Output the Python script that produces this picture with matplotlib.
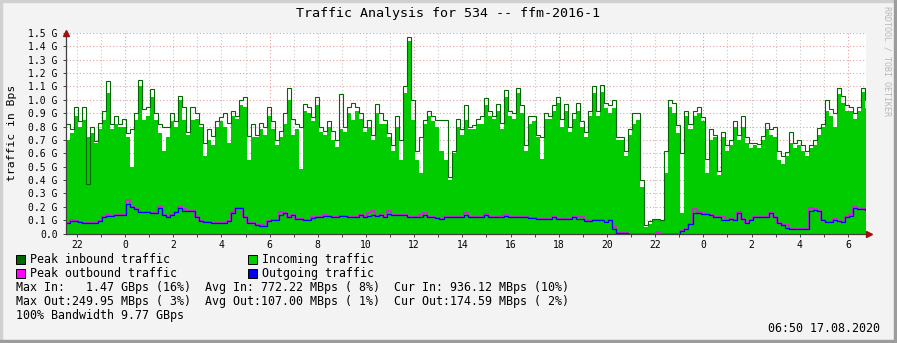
import numpy as np
import matplotlib
matplotlib.use("Agg")
import matplotlib.pyplot as plt
from matplotlib.patches import Rectangle

# hours relative to 16.08.2020 00:00, one sample every 10 minutes
t_start = -2.45
step_h = 1 / 6
x_range = (-2.45, 30.75)

avg_in = [
    0.70, 0.75, 0.88, 0.80, 0.85, 0.72, 0.75, 0.68, 0.78, 0.85,
    1.05, 0.78, 0.82, 0.80, 0.80, 0.72, 0.50, 0.85, 1.10, 0.85,
    0.88, 1.02, 0.85, 0.75, 0.62, 0.72, 0.84, 0.80, 1.00, 0.85,
    0.74, 0.85, 0.86, 0.80, 0.58, 0.70, 0.66, 0.80, 0.84, 0.80,
    0.68, 0.88, 0.86, 0.96, 0.95, 0.55, 0.72, 0.72, 0.78, 0.74,
    0.88, 0.78, 0.66, 0.72, 0.82, 1.00, 0.74, 0.78, 0.48, 0.92,
    0.90, 0.84, 0.96, 0.76, 0.74, 0.80, 0.70, 0.65, 0.78, 0.76,
    0.90, 0.85, 0.92, 0.86, 0.76, 0.80, 0.70, 0.90, 0.82, 0.82,
    0.72, 0.62, 0.80, 0.55, 1.05, 1.44, 0.85, 0.55, 0.45, 0.82,
    0.88, 0.84, 0.80, 0.62, 0.55, 0.40, 0.60, 0.80, 0.74, 0.85,
    0.78, 0.78, 0.82, 0.82, 0.96, 0.88, 0.86, 0.92, 0.78, 1.02,
    0.88, 0.86, 1.05, 0.90, 0.62, 0.82, 0.84, 0.72, 0.56, 0.86,
    0.86, 0.92, 0.98, 0.80, 0.92, 0.76, 0.86, 0.92, 0.80, 0.72,
    0.88, 1.05, 0.88, 1.06, 0.94, 0.90, 0.94, 0.70, 0.70, 0.58,
    0.74, 0.82, 0.85, 0.35, 0.05, 0.07, 0.10, 0.10, 0.09, 0.45,
    0.95, 0.90, 0.75, 0.15, 0.88, 0.78, 0.88, 0.90, 0.84, 0.45,
    0.70, 0.72, 0.44, 0.72, 0.62, 0.66, 0.80, 0.70, 0.80, 0.68,
    0.64, 0.66, 0.64, 0.70, 0.78, 0.74, 0.72, 0.55, 0.52, 0.58,
    0.68, 0.64, 0.66, 0.62, 0.58, 0.64, 0.66, 0.74, 0.80, 0.92,
    0.88, 0.80, 1.04, 0.98, 0.92, 0.92, 0.86, 0.92, 1.06, 0.94,
]

peak_in = [
    0.82, 0.78, 0.95, 0.84, 0.95, 0.37, 0.80, 0.69, 0.83, 0.92,
    1.14, 0.82, 0.88, 0.82, 0.86, 0.75, 0.78, 0.90, 1.15, 0.93,
    0.95, 1.08, 0.90, 0.82, 0.80, 0.80, 0.90, 0.84, 1.03, 0.95,
    0.76, 0.95, 0.90, 0.82, 0.68, 0.78, 0.73, 0.84, 0.87, 0.90,
    0.83, 0.92, 0.88, 1.00, 1.02, 0.73, 0.82, 0.74, 0.83, 0.80,
    0.95, 0.84, 0.70, 0.77, 0.90, 1.09, 0.86, 0.82, 0.80, 0.97,
    0.95, 0.87, 1.02, 0.80, 0.77, 0.84, 0.77, 0.70, 1.04, 0.80,
    0.95, 0.98, 0.95, 0.90, 0.80, 0.85, 0.74, 0.97, 0.90, 0.85,
    0.75, 0.66, 0.88, 0.70, 1.10, 1.47, 1.00, 0.62, 0.72, 0.85,
    0.92, 0.88, 0.85, 0.85, 0.85, 0.42, 0.62, 0.86, 0.78, 0.96,
    0.80, 0.81, 0.86, 0.88, 1.01, 0.92, 0.88, 0.97, 0.83, 1.07,
    0.92, 0.90, 1.09, 0.96, 0.66, 0.88, 0.88, 0.74, 0.72, 0.90,
    0.88, 0.96, 1.02, 0.86, 0.97, 0.80, 0.90, 0.98, 0.84, 0.76,
    0.92, 1.10, 0.92, 1.11, 0.98, 0.96, 1.00, 0.72, 0.72, 0.62,
    0.78, 0.90, 0.90, 0.40, 0.06, 0.09, 0.11, 0.11, 0.10, 0.62,
    1.00, 0.98, 0.81, 0.60, 0.92, 0.82, 0.92, 0.95, 0.87, 0.56,
    0.78, 0.74, 0.47, 0.76, 0.66, 0.70, 0.84, 0.74, 0.88, 0.72,
    0.68, 0.68, 0.67, 0.73, 0.83, 0.78, 0.80, 0.62, 0.58, 0.61,
    0.76, 0.68, 0.70, 0.66, 0.62, 0.66, 0.70, 0.79, 0.82, 1.00,
    0.93, 0.90, 1.09, 1.03, 0.96, 0.95, 0.90, 0.95, 1.09, 1.00,
]

avg_out = [
    0.075, 0.09, 0.09, 0.085, 0.08, 0.08, 0.08, 0.075, 0.09, 0.12,
    0.13, 0.13, 0.14, 0.14, 0.14, 0.22, 0.20, 0.18, 0.16, 0.16,
    0.16, 0.15, 0.15, 0.19, 0.14, 0.125, 0.14, 0.16, 0.19, 0.17,
    0.165, 0.165, 0.12, 0.09, 0.087, 0.087, 0.08, 0.075, 0.075, 0.075,
    0.09, 0.15, 0.19, 0.19, 0.12, 0.08, 0.075, 0.06, 0.055, 0.055,
    0.09, 0.10, 0.10, 0.14, 0.15, 0.125, 0.135, 0.11, 0.11, 0.10,
    0.10, 0.115, 0.12, 0.12, 0.13, 0.13, 0.12, 0.125, 0.13, 0.13,
    0.125, 0.125, 0.125, 0.14, 0.12, 0.13, 0.14, 0.13, 0.14, 0.12,
    0.145, 0.135, 0.135, 0.135, 0.135, 0.125, 0.12, 0.12, 0.125, 0.135,
    0.12, 0.12, 0.115, 0.11, 0.12, 0.12, 0.125, 0.125, 0.125, 0.14,
    0.125, 0.125, 0.12, 0.12, 0.14, 0.12, 0.12, 0.12, 0.12, 0.13,
    0.125, 0.125, 0.125, 0.125, 0.125, 0.115, 0.115, 0.108, 0.108, 0.108,
    0.108, 0.12, 0.108, 0.108, 0.108, 0.108, 0.12, 0.11, 0.11, 0.09,
    0.09, 0.10, 0.10, 0.10, 0.087, 0.10, 0.03, 0.007, 0.005, 0.002,
    0.0, 0.0, 0.0, 0.0, 0.0, 0.0, 0.0, 0.0, 0.0, 0.0,
    0.0, 0.0, 0.0, 0.015, 0.03, 0.07, 0.15, 0.155, 0.145, 0.145,
    0.14, 0.125, 0.125, 0.10, 0.10, 0.11, 0.10, 0.15, 0.11, 0.075,
    0.10, 0.125, 0.125, 0.12, 0.12, 0.15, 0.12, 0.075, 0.062, 0.042,
    0.037, 0.037, 0.037, 0.037, 0.035, 0.17, 0.175, 0.17, 0.10, 0.087,
    0.087, 0.10, 0.095, 0.087, 0.125, 0.13, 0.19, 0.185, 0.185, 0.175,
]

peak_out = [
    0.075, 0.10, 0.09, 0.085, 0.08, 0.08, 0.08, 0.075, 0.09, 0.12,
    0.14, 0.13, 0.14, 0.14, 0.14, 0.25, 0.20, 0.18, 0.16, 0.16,
    0.16, 0.15, 0.15, 0.20, 0.14, 0.125, 0.14, 0.16, 0.20, 0.18,
    0.165, 0.165, 0.12, 0.09, 0.087, 0.087, 0.08, 0.075, 0.075, 0.075,
    0.09, 0.16, 0.19, 0.19, 0.12, 0.08, 0.075, 0.06, 0.065, 0.055,
    0.09, 0.10, 0.10, 0.16, 0.15, 0.125, 0.14, 0.11, 0.11, 0.10,
    0.10, 0.125, 0.12, 0.12, 0.14, 0.13, 0.12, 0.125, 0.13, 0.13,
    0.125, 0.125, 0.125, 0.14, 0.12, 0.15, 0.17, 0.13, 0.14, 0.12,
    0.17, 0.135, 0.135, 0.135, 0.135, 0.125, 0.12, 0.12, 0.14, 0.15,
    0.12, 0.12, 0.115, 0.11, 0.12, 0.12, 0.125, 0.125, 0.125, 0.155,
    0.125, 0.125, 0.12, 0.12, 0.145, 0.12, 0.12, 0.12, 0.13, 0.14,
    0.125, 0.125, 0.125, 0.125, 0.125, 0.115, 0.115, 0.108, 0.108, 0.108,
    0.108, 0.12, 0.108, 0.108, 0.108, 0.108, 0.125, 0.12, 0.125, 0.10,
    0.09, 0.10, 0.10, 0.10, 0.087, 0.10, 0.05, 0.007, 0.005, 0.002,
    0.0, 0.0, 0.0, 0.0, 0.0, 0.0, 0.0, 0.008, 0.0, 0.0,
    0.0, 0.0, 0.0, 0.015, 0.03, 0.07, 0.18, 0.16, 0.15, 0.145,
    0.14, 0.125, 0.125, 0.12, 0.10, 0.11, 0.10, 0.16, 0.11, 0.075,
    0.10, 0.125, 0.125, 0.12, 0.12, 0.155, 0.12, 0.075, 0.062, 0.06,
    0.037, 0.037, 0.037, 0.037, 0.035, 0.19, 0.18, 0.17, 0.10, 0.087,
    0.087, 0.11, 0.095, 0.087, 0.125, 0.135, 0.20, 0.185, 0.185, 0.175,
]

title = "Traffic Analysis for 534 -- ffm-2016-1"
legend_items = [("Peak inbound traffic", "#006600"), ("Incoming traffic", "#00CC00"),
                ("Peak outbound traffic", "#FF00FF"), ("Outgoing traffic", "#0000FF")]
stats = ["Max In:   1.47 GBps (16%)  Avg In: 772.22 MBps ( 8%)  Cur In: 936.12 MBps (10%)",
         "Max Out:249.95 MBps ( 3%)  Avg Out:107.00 MBps ( 1%)  Cur Out:174.59 MBps ( 2%)",
         "100% Bandwidth 9.77 GBps"]
stamp = "06:50 17.08.2020"

W, H = 897, 343
plt.rcParams['font.family'] = ['DejaVu Sans Mono']
fig = plt.figure(figsize=(W / 100, H / 100), dpi=100, facecolor="#F3F3F3")


def fx(x):
    return x / W


def fy(y):
    return 1 - y / H


ax = fig.add_axes([fx(66), fy(233.5), 800 / W, 200.5 / H])
ax.set_facecolor("white")

edges = t_start + np.arange(len(avg_in) + 1) * step_h

# grid
for h in range(-2, 31):
    col = "#E0A0A0" if h % 6 == 0 else "#C8C8C8"
    ax.axvline(h, color=col, lw=0.8, ls=(0, (1, 2)), zorder=0)
for v in np.arange(0.1, 1.51, 0.1):
    ax.axhline(v, color="#E0A0A0", lw=0.8, ls=(0, (1, 2)), zorder=0)

ax.stairs(avg_in, edges, fill=True, color="#00CC00", zorder=2)
ax.stairs(peak_in, edges, baseline=None, color="#006600", lw=0.8, zorder=3)
ax.stairs(peak_out, edges, baseline=None, color="#FF00FF", lw=1.1, zorder=4)
ax.stairs(avg_out, edges, baseline=None, color="#0000FF", lw=0.9, zorder=5)

ax.set_xlim(*x_range)
ax.set_ylim(0, 1.5)
for s in ["top", "right"]:
    ax.spines[s].set_visible(False)
for s in ["left", "bottom"]:
    ax.spines[s].set_color("#404040")
    ax.spines[s].set_linewidth(0.9)
    ax.spines[s].set_zorder(6)

hours = np.arange(-2, 31, 2)
ax.set_xticks(hours)
ax.set_xticklabels([str(int(h) % 24) for h in hours])
ax.set_xticks(np.arange(-2, 31, 1), minor=True)
yt = np.arange(0, 1.51, 0.1)
ax.set_yticks(yt)
ax.set_yticklabels(["0.0"] + ["%.1f G" % v for v in yt[1:]])
ax.tick_params(axis="both", labelsize=7, colors="#404040", labelcolor="black",
               length=2, width=0.7, pad=3)
ax.tick_params(axis="x", which="minor", length=2, width=0.7, colors="#404040")
ax.tick_params(axis="y", pad=4)

# arrows on axes
ax.plot([0], [1.0], transform=ax.transAxes, marker="^", ms=5, color="#A01010",
        clip_on=False, zorder=7)
ax.plot([1.004], [0], transform=ax.transAxes, marker=">", ms=5, color="#A01010",
        clip_on=False, zorder=7)

fig.text(fx(448), fy(13), title, ha="center", va="center", fontsize=9.6)
fig.text(fx(12), fy(133), "traffic in Bps", rotation=90, ha="center", va="center",
         fontsize=8.2)
fig.text(fx(887), fy(6), "RRDTOOL / TOBI OETIKER", rotation=-90, ha="center", va="top",
         fontsize=6, color="#B8B8B8")

# legend
pos = [(16, 259.5), (248, 259.5), (16, 273.5), (248, 273.5)]
for (lab, col), (x, y) in zip(legend_items, pos):
    fig.add_artist(Rectangle((fx(x), fy(y + 4.5)), 9 / W, 9 / H, facecolor=col,
                             edgecolor="black", lw=0.7, transform=fig.transFigure))
    fig.text(fx(x + 14), fy(y), lab, ha="left", va="center", fontsize=8.4)

for k, s in enumerate(stats):
    fig.text(fx(16), fy(287 + 14 * k), s, ha="left", va="center", fontsize=8.4)
fig.text(fx(880), fy(328.5), stamp, ha="right", va="center", fontsize=8.4)

# frame
fig.add_artist(Rectangle((0, fy(2)), 1, 2 / H, color="#D0D0D0", transform=fig.transFigure))
fig.add_artist(Rectangle((0, 0), 2 / W, 1, color="#D0D0D0", transform=fig.transFigure))
fig.add_artist(Rectangle((0, 0), 1, 3 / H, color="#9C9C9C", transform=fig.transFigure))
fig.add_artist(Rectangle((fx(894), 0), 3 / W, 1, color="#9C9C9C", transform=fig.transFigure))

fig.savefig("out.png", dpi=100, facecolor=fig.get_facecolor())
